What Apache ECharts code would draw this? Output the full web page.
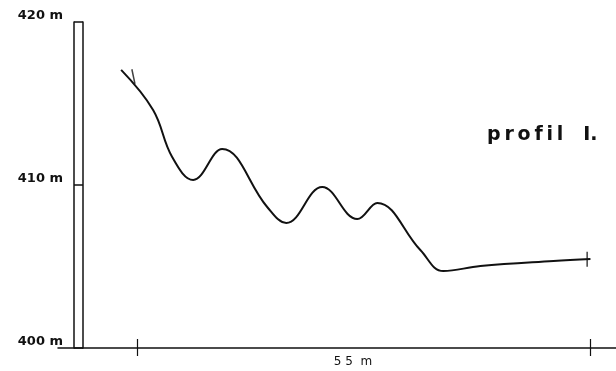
<!DOCTYPE html>
<html>
<head>
<meta charset="utf-8">
<script src="https://cdn.jsdelivr.net/npm/echarts@6/dist/echarts.min.js"></script>
<style>
    html, body { margin: 0; padding: 0; background: #fff; }
    #container { width: 616px; height: 371px; }
</style>
</head>
<body>
<div id="container"></div>
<script>
    // profile points: distance (m) / altitude (m)
    let profileX = [-1.94, 1.94, 4.25, 6.80, 10.32, 15.78, 18.09, 22.46, 26.71, 29.14, 34.36, 37.15, 41.65, 50.51, 55.0];
    let profileY = [417.06, 414.60, 411.72, 410.31, 412.21, 408.65, 407.67, 409.88, 407.91, 408.90, 406.01, 404.72, 405.03, 405.34, 405.46];
    // end marks on the profile
    let markerX = [-0.45, 54.6];
    let markerY = [416.65, 405.45];
    let markerRotate = [12, 0];
    // axis ticks
    let xTicks = [0, 55];
    let xLabelPos = [26.2];
    let xLabelText = '5 5  m';
    let titleText = 'p\u2009r\u2009o\u2009f\u2009i\u2009l   I.';

    let ink = '#111';
    let font = 'DejaVu Sans';

    let lineData = [];
    for (let i = 0; i < profileX.length; i++) {
        lineData.push([profileX[i], profileY[i]]);
    }
    let markData = [];
    for (let i = 0; i < markerX.length; i++) {
        markData.push({
            value: [markerX[i], markerY[i]],
            symbolRotate: markerRotate[i]
        });
    }

    let myChart = echarts.init(document.getElementById('container'));
    let option = {
        animation: false,
        backgroundColor: '#fff',
        title: {
            text: titleText,
            left: 482,
            top: 121,
            textStyle: {
                fontFamily: font,
                fontWeight: 'bold',
                fontSize: 19,
                color: ink
            }
        },
        grid: {left: 58, right: 0, top: 22, bottom: 23},
        xAxis: [{
            type: 'value',
            min: -9.6,
            max: 58.1,
            splitLine: {show: false},
            axisLine: {onZero: false, lineStyle: {color: ink, width: 1.5}},
            axisTick: {
                show: true,
                customValues: xTicks,
                length: 8,
                lineStyle: {color: ink, width: 1.2}
            },
            axisLabel: {
                customValues: xLabelPos,
                formatter: function () {
                    return xLabelText;
                },
                margin: 8,
                fontFamily: font,
                fontSize: 12,
                color: ink
            }
        }, {
            type: 'value',
            position: 'bottom',
            min: -9.6,
            max: 58.1,
            splitLine: {show: false},
            axisLine: {show: false, onZero: false},
            axisTick: {
                show: true,
                inside: true,
                customValues: xTicks,
                length: 9,
                lineStyle: {color: ink, width: 1.2}
            },
            axisLabel: {show: false}
        }],
        yAxis: [{
            type: 'value',
            min: 400,
            max: 420,
            interval: 10,
            position: 'left',
            offset: -16,
            splitLine: {show: false},
            axisLine: {show: true, onZero: false, lineStyle: {color: ink, width: 1.5}},
            axisTick: {
                show: true,
                inside: true,
                length: 9,
                lineStyle: {color: ink, width: 1.5}
            },
            axisLabel: {
                margin: 11,
                verticalAlign: 'bottom',
                fontFamily: font,
                fontWeight: 'bold',
                fontSize: 13,
                color: ink,
                formatter: function (v) {
                    return v + ' m';
                }
            }
        }, {
            type: 'value',
            min: 400,
            max: 420,
            interval: 10,
            position: 'left',
            offset: -25,
            splitLine: {show: false},
            axisLine: {show: true, onZero: false, lineStyle: {color: ink, width: 1.5}},
            axisTick: {show: false},
            axisLabel: {show: false}
        }],
        series: [{
            type: 'line',
            data: lineData,
            smooth: 0.4,
            showSymbol: false,
            lineStyle: {color: ink, width: 2}
        }, {
            type: 'scatter',
            data: markData,
            symbol: 'rect',
            symbolSize: [1.5, 15],
            itemStyle: {color: ink}
        }]
    };
    myChart.setOption(option);
</script>
</body>
</html>
